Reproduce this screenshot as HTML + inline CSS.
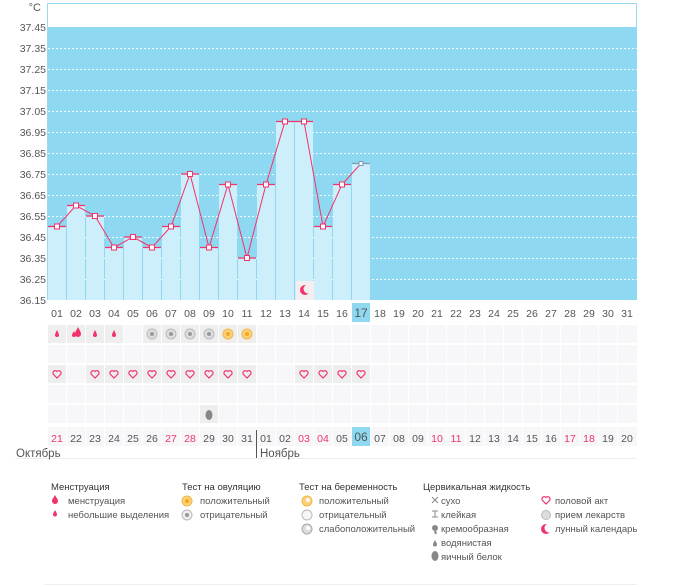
<!DOCTYPE html>
<html><head><meta charset="utf-8"><style>
body{margin:0;background:#fff;width:675px;height:587px;overflow:hidden}
svg{display:block;font-family:"Liberation Sans",sans-serif}
</style></head><body>
<svg width="675" height="587" viewBox="0 0 675 587">
<defs>
<pattern id="dots" width="4" height="1" patternUnits="userSpaceOnUse"><rect width="2" height="1" fill="#fff"/></pattern>
</defs>
<rect x="47.5" y="3.5" width="589" height="296" fill="#fff" stroke="#9ad9f1"/>
<rect x="48" y="27" width="589" height="273" fill="#8fd8f2"/>
<g fill="url(#dots)" opacity="0.9">
<rect x="48" y="48" width="589" height="1"/><rect x="48" y="69" width="589" height="1"/><rect x="48" y="90" width="589" height="1"/><rect x="48" y="111" width="589" height="1"/><rect x="48" y="132" width="589" height="1"/><rect x="48" y="153" width="589" height="1"/><rect x="48" y="174" width="589" height="1"/><rect x="48" y="195" width="589" height="1"/><rect x="48" y="216" width="589" height="1"/><rect x="48" y="237" width="589" height="1"/><rect x="48" y="258" width="589" height="1"/><rect x="48" y="279" width="589" height="1"/>
</g>
<g font-size="10.5" fill="#555" text-anchor="end">
<text x="41" y="11" font-size="11">°C</text>
<text x="46" y="31">37.45</text><text x="46" y="52">37.35</text><text x="46" y="73">37.25</text><text x="46" y="94">37.15</text><text x="46" y="115">37.05</text><text x="46" y="136">36.95</text><text x="46" y="157">36.85</text><text x="46" y="178">36.75</text><text x="46" y="199">36.65</text><text x="46" y="220">36.55</text><text x="46" y="241">36.45</text><text x="46" y="262">36.35</text><text x="46" y="283">36.25</text><text x="46" y="304">36.15</text>
</g>
<g fill="#cdeefb">
<rect x="48" y="226" width="18" height="74"/><rect x="67" y="205" width="18" height="95"/><rect x="86" y="216" width="18" height="84"/><rect x="105" y="247" width="18" height="53"/><rect x="124" y="237" width="18" height="63"/><rect x="143" y="247" width="18" height="53"/><rect x="162" y="226" width="18" height="74"/><rect x="181" y="174" width="18" height="126"/><rect x="200" y="247" width="18" height="53"/><rect x="219" y="184" width="18" height="116"/><rect x="238" y="258" width="18" height="42"/><rect x="257" y="184" width="18" height="116"/><rect x="276" y="121" width="18" height="179"/><rect x="295" y="121" width="18" height="179"/><rect x="314" y="226" width="18" height="74"/><rect x="333" y="184" width="18" height="116"/><rect x="352" y="163" width="18" height="137"/>
</g>
<g stroke="#f0336a" stroke-width="1.3">
<path d="M48 226.5h18M67 205.5h18M86 216h18M105 247.5h18M124 237h18M143 247.5h18M162 226.5h18M181 174h18M200 247.5h18M219 184.5h18M238 258h18M257 184.5h18M276 121.5h18M295 121.5h18M314 226.5h18M333 184.5h18"/>
<path d="M352 163.5h18" stroke="#7a9ab5"/>
<polyline fill="none" stroke-width="1" points="57,226.5 76,205.5 95,216 114,247.5 133,237 152,247.5 171,226.5 190,174 209,247.5 228,184.5 247,258 266,184.5 285,121.5 304,121.5 323,226.5 342,184.5 361,163.5"/>
</g>
<g fill="#fff" stroke="#f0336a" stroke-width="1">
<rect x="54.5" y="224" width="5" height="5"/><rect x="73.5" y="203" width="5" height="5"/><rect x="92.5" y="213.5" width="5" height="5"/><rect x="111.5" y="245" width="5" height="5"/><rect x="130.5" y="234.5" width="5" height="5"/><rect x="149.5" y="245" width="5" height="5"/><rect x="168.5" y="224" width="5" height="5"/><rect x="187.5" y="171.5" width="5" height="5"/><rect x="206.5" y="245" width="5" height="5"/><rect x="225.5" y="182" width="5" height="5"/><rect x="244.5" y="255.5" width="5" height="5"/><rect x="263.5" y="182" width="5" height="5"/><rect x="282.5" y="119" width="5" height="5"/><rect x="301.5" y="119" width="5" height="5"/><rect x="320.5" y="224" width="5" height="5"/><rect x="339.5" y="182" width="5" height="5"/>
<rect x="359" y="161.5" width="4" height="4" stroke="#7a9ab5"/>
</g>
<rect x="296" y="281" width="18" height="19" fill="#f3eef0"/>
<circle cx="305" cy="290" r="5" fill="#f0336a"/><circle cx="308" cy="289" r="4.5" fill="#f3eef0"/>
<rect x="352" y="303" width="18" height="19" fill="#8fd8f2"/>
<g font-size="10.5" fill="#555" text-anchor="middle">
<text x="57" y="317">01</text><text x="76" y="317">02</text><text x="95" y="317">03</text><text x="114" y="317">04</text><text x="133" y="317">05</text><text x="152" y="317">06</text><text x="171" y="317">07</text><text x="190" y="317">08</text><text x="209" y="317">09</text><text x="228" y="317">10</text><text x="247" y="317">11</text><text x="266" y="317">12</text><text x="285" y="317">13</text><text x="304" y="317">14</text><text x="323" y="317">15</text><text x="342" y="317">16</text><text x="361" y="317" font-size="12">17</text><text x="380" y="317">18</text><text x="399" y="317">19</text><text x="418" y="317">20</text><text x="437" y="317">21</text><text x="456" y="317">22</text><text x="475" y="317">23</text><text x="494" y="317">24</text><text x="513" y="317">25</text><text x="532" y="317">26</text><text x="551" y="317">27</text><text x="570" y="317">28</text><text x="589" y="317">29</text><text x="608" y="317">30</text><text x="627" y="317">31</text>
</g>
<g fill="#f7f6f8">
<rect x="48" y="325" width="589" height="18"/><rect x="48" y="345" width="589" height="18"/><rect x="48" y="365" width="589" height="18"/><rect x="48" y="385" width="589" height="18"/><rect x="48" y="405" width="589" height="18"/><rect x="48" y="427" width="589" height="19"/>
</g>
<g fill="#fff">
<rect x="66" y="325" width="1" height="121"/><rect x="85" y="325" width="1" height="121"/><rect x="104" y="325" width="1" height="121"/><rect x="123" y="325" width="1" height="121"/><rect x="142" y="325" width="1" height="121"/><rect x="161" y="325" width="1" height="121"/><rect x="180" y="325" width="1" height="121"/><rect x="199" y="325" width="1" height="121"/><rect x="218" y="325" width="1" height="121"/><rect x="237" y="325" width="1" height="121"/><rect x="256" y="325" width="1" height="121"/><rect x="275" y="325" width="1" height="121"/><rect x="294" y="325" width="1" height="121"/><rect x="313" y="325" width="1" height="121"/><rect x="332" y="325" width="1" height="121"/><rect x="351" y="325" width="1" height="121"/><rect x="370" y="325" width="1" height="121"/><rect x="389" y="325" width="1" height="121"/><rect x="408" y="325" width="1" height="121"/><rect x="427" y="325" width="1" height="121"/><rect x="446" y="325" width="1" height="121"/><rect x="465" y="325" width="1" height="121"/><rect x="484" y="325" width="1" height="121"/><rect x="503" y="325" width="1" height="121"/><rect x="522" y="325" width="1" height="121"/><rect x="541" y="325" width="1" height="121"/><rect x="560" y="325" width="1" height="121"/><rect x="579" y="325" width="1" height="121"/><rect x="598" y="325" width="1" height="121"/><rect x="617" y="325" width="1" height="121"/>
</g>
<g fill="#eeeeef">
<rect x="48" y="325" width="18" height="18"/><rect x="67" y="325" width="18" height="18"/><rect x="86" y="325" width="18" height="18"/><rect x="105" y="325" width="18" height="18"/><rect x="143" y="325" width="18" height="18"/><rect x="162" y="325" width="18" height="18"/><rect x="181" y="325" width="18" height="18"/><rect x="200" y="325" width="18" height="18"/><rect x="219" y="325" width="18" height="18"/><rect x="238" y="325" width="18" height="18"/>
<rect x="48" y="365" width="18" height="18"/><rect x="86" y="365" width="18" height="18"/><rect x="105" y="365" width="18" height="18"/><rect x="124" y="365" width="18" height="18"/><rect x="143" y="365" width="18" height="18"/><rect x="162" y="365" width="18" height="18"/><rect x="181" y="365" width="18" height="18"/><rect x="200" y="365" width="18" height="18"/><rect x="219" y="365" width="18" height="18"/><rect x="238" y="365" width="18" height="18"/><rect x="295" y="365" width="18" height="18"/><rect x="314" y="365" width="18" height="18"/><rect x="333" y="365" width="18" height="18"/><rect x="352" y="365" width="18" height="18"/>
<rect x="200" y="405" width="18" height="18"/>
</g>
<rect x="352" y="427" width="18" height="19" fill="#8fd8f2"/>
<g fill="#f0336a">
<path d="M57 330c1 2 2 4 2 5a2 2 0 0 1-4 0c0-1 1-3 2-5z"/><path d="M95 330c1 2 2 4 2 5a2 2 0 0 1-4 0c0-1 1-3 2-5z"/><path d="M114 330c1 2 2 4 2 5a2 2 0 0 1-4 0c0-1 1-3 2-5z"/>
<path d="M78 327c1.5 3 3 5 3 7a3 3 0 0 1-6 0c0-2 1.5-4 3-7z"/><path d="M74 331c1 2 2 3 2 4a2 2 0 0 1-4 0c0-1 1-2 2-4z"/>
</g>
<g>
<circle cx="152" cy="334" r="5" fill="#ddd" stroke="#bbb"/><circle cx="152" cy="334" r="2" fill="#999"/>
<circle cx="171" cy="334" r="5" fill="#ddd" stroke="#bbb"/><circle cx="171" cy="334" r="2" fill="#999"/>
<circle cx="190" cy="334" r="5" fill="#ddd" stroke="#bbb"/><circle cx="190" cy="334" r="2" fill="#999"/>
<circle cx="209" cy="334" r="5" fill="#ddd" stroke="#bbb"/><circle cx="209" cy="334" r="2" fill="#999"/>
<circle cx="228" cy="334" r="5" fill="#fbd27a" stroke="#f0b848"/><circle cx="228" cy="334" r="2" fill="#f5a623"/>
<circle cx="247" cy="334" r="5" fill="#fbd27a" stroke="#f0b848"/><circle cx="247" cy="334" r="2" fill="#f5a623"/>
</g>
<g fill="none" stroke="#f0336a" stroke-width="1.2">
<path id="h" d="M57 378l-3.5-3.5a2 2 0 0 1 3.5-3 2 2 0 0 1 3.5 3z"/>
<use href="#h" x="38"/><use href="#h" x="57"/><use href="#h" x="76"/><use href="#h" x="95"/><use href="#h" x="114"/><use href="#h" x="133"/><use href="#h" x="152"/><use href="#h" x="171"/><use href="#h" x="190"/><use href="#h" x="247"/><use href="#h" x="266"/><use href="#h" x="285"/><use href="#h" x="304"/>
</g>
<ellipse cx="209" cy="415" rx="3.5" ry="5" fill="#888"/>
<g font-size="10.5" fill="#555" text-anchor="middle">
<text x="57" y="442" fill="#f0336a">21</text><text x="76" y="442">22</text><text x="95" y="442">23</text><text x="114" y="442">24</text><text x="133" y="442">25</text><text x="152" y="442">26</text><text x="171" y="442" fill="#f0336a">27</text><text x="190" y="442" fill="#f0336a">28</text><text x="209" y="442">29</text><text x="228" y="442">30</text><text x="247" y="442">31</text><text x="266" y="442">01</text><text x="285" y="442">02</text><text x="304" y="442" fill="#f0336a">03</text><text x="323" y="442" fill="#f0336a">04</text><text x="342" y="442">05</text><text x="361" y="441" font-size="12">06</text><text x="380" y="442">07</text><text x="399" y="442">08</text><text x="418" y="442">09</text><text x="437" y="442" fill="#f0336a">10</text><text x="456" y="442" fill="#f0336a">11</text><text x="475" y="442">12</text><text x="494" y="442">13</text><text x="513" y="442">14</text><text x="532" y="442">15</text><text x="551" y="442">16</text><text x="570" y="442" fill="#f0336a">17</text><text x="589" y="442" fill="#f0336a">18</text><text x="608" y="442">19</text><text x="627" y="442">20</text>
</g>
<rect x="256" y="430" width="1" height="29" fill="#555"/>
<rect x="15" y="458" width="622" height="1" fill="#eee"/>
<g font-size="11.5" fill="#555"><text x="16" y="457">Октябрь</text><text x="260" y="457">Ноябрь</text></g>
<g font-size="9.5" fill="#333">
<text x="51" y="490">Менструация</text><text x="182" y="490">Тест на овуляцию</text><text x="299" y="490">Тест на беременность</text><text x="423" y="490">Цервикальная жидкость</text>
</g>
<g font-size="9.5" fill="#555">
<text x="68" y="504">менструация</text><text x="68" y="518">небольшие выделения</text>
<text x="200" y="504">положительный</text><text x="200" y="518">отрицательный</text>
<text x="319" y="504">положительный</text><text x="319" y="518">отрицательный</text><text x="319" y="532">слабоположительный</text>
<text x="441" y="504">сухо</text><text x="441" y="518">клейкая</text><text x="441" y="532">кремообразная</text><text x="441" y="546">водянистая</text><text x="441" y="560">яичный белок</text>
<text x="555" y="504">половой акт</text><text x="555" y="518">прием лекарств</text><text x="555" y="532">лунный календарь</text>
</g>
<g fill="#f0336a">
<path d="M55 495c1.5 3 3 4 3 6a3 3 0 0 1-6 0c0-2 1.5-3 3-6z"/><path d="M55 510c1 2 2 3 2 4.5a2 2 0 0 1-4 0c0-1.5 1-2.5 2-4.5z"/>
</g>
<circle cx="187" cy="501" r="5" fill="#fbd27a" stroke="#f0b848"/><circle cx="187" cy="501" r="2" fill="#f5a623"/>
<circle cx="187" cy="515" r="5" fill="#eee" stroke="#bbb"/><circle cx="187" cy="515" r="2" fill="#999"/>
<circle cx="307" cy="501" r="5" fill="#fbd27a" stroke="#f0b848"/><circle cx="308" cy="500" r="2" fill="#fff"/>
<circle cx="307" cy="515" r="5" fill="#f6f6f6" stroke="#bbb"/>
<circle cx="307" cy="529" r="5" fill="#ddd" stroke="#aaa"/><circle cx="308" cy="528" r="2" fill="#fff"/>
<path d="M432 497l6 6M438 497l-6 6M432 511h6M435 511v6M432 517h6" stroke="#888" fill="none"/>
<circle cx="435" cy="528" r="3" fill="#888"/><path d="M435 531l1 3" stroke="#888" stroke-width="2"/>
<path d="M435 540c1 2 2 3 2 4.5a2 2 0 0 1-4 0c0-1.5 1-2.5 2-4.5z" fill="#888"/>
<ellipse cx="435" cy="556" rx="3.5" ry="5" fill="#888"/>
<path d="M546 504l-3.5-3.5a2 2 0 0 1 3.5-3 2 2 0 0 1 3.5 3z" fill="none" stroke="#f0336a" stroke-width="1.2"/>
<circle cx="546" cy="515" r="4.5" fill="#ddd" stroke="#bbb"/>
<circle cx="546" cy="529" r="5" fill="#f0336a"/><circle cx="549" cy="528" r="4.5" fill="#fff"/>
<rect x="45" y="584" width="592" height="1" fill="#eee"/>
</svg>
</body></html>
